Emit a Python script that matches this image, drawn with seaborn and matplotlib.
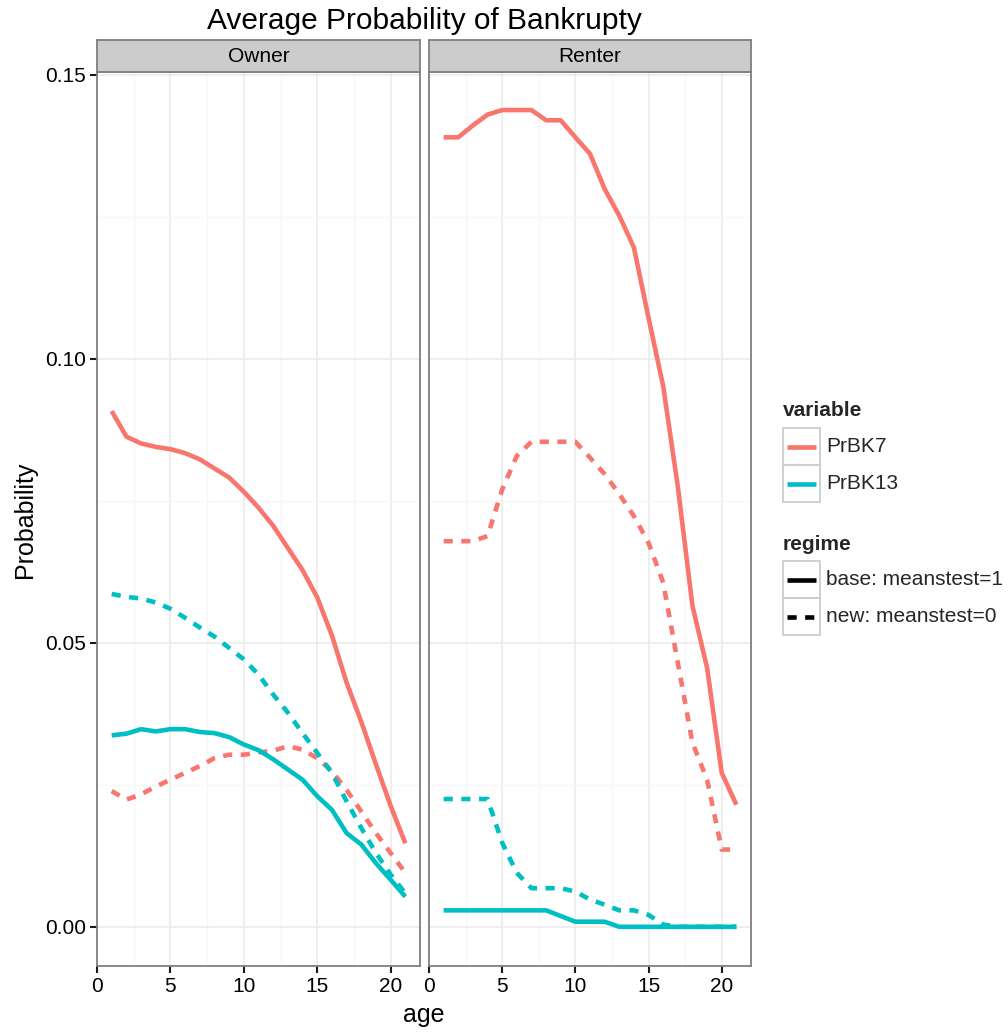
import numpy as np
import pandas as pd
import matplotlib
matplotlib.use("Agg")
import matplotlib.pyplot as plt
import seaborn as sns
from matplotlib.patches import Rectangle
from matplotlib.lines import Line2D
from matplotlib.ticker import MultipleLocator

# ---------------- data ----------------
ages = list(range(1, 22))
panels = ["Owner", "Renter"]
variables = ["PrBK7", "PrBK13"]
regimes = ["base: meanstest=1", "new: meanstest=0"]

owner_prbk7_base = [0.0908, 0.0863, 0.0851, 0.0845, 0.0841, 0.0834, 0.0823, 0.0807, 0.0791, 0.0766,
                    0.0738, 0.0706, 0.0667, 0.0628, 0.0580, 0.0513, 0.0430, 0.0361, 0.0286, 0.0213, 0.0147]
owner_prbk7_new = [0.0239, 0.0224, 0.0233, 0.0247, 0.0259, 0.0271, 0.0283, 0.0297, 0.0303, 0.0303,
                   0.0307, 0.0310, 0.0318, 0.0312, 0.0297, 0.0274, 0.0241, 0.0203, 0.0165, 0.0130, 0.0095]
owner_prbk13_base = [0.0337, 0.0340, 0.0348, 0.0344, 0.0348, 0.0348, 0.0343, 0.0341, 0.0334, 0.0321,
                     0.0311, 0.0295, 0.0277, 0.0259, 0.0230, 0.0206, 0.0165, 0.0145, 0.0112, 0.0083, 0.0053]
owner_prbk13_new = [0.0586, 0.0581, 0.0578, 0.0571, 0.0560, 0.0544, 0.0527, 0.0511, 0.0491, 0.0471,
                    0.0444, 0.0409, 0.0377, 0.0341, 0.0306, 0.0271, 0.0221, 0.0174, 0.0130, 0.0092, 0.0059]

renter_prbk7_base = [0.1390, 0.1390, 0.1411, 0.1430, 0.1438, 0.1438, 0.1438, 0.1420, 0.1420, 0.1390,
                     0.1361, 0.1299, 0.1252, 0.1196, 0.1072, 0.0952, 0.0775, 0.0565, 0.0456, 0.0271, 0.0215]
renter_prbk7_new = [0.0679, 0.0679, 0.0679, 0.0688, 0.0770, 0.0829, 0.0854, 0.0854, 0.0854, 0.0854,
                    0.0826, 0.0797, 0.0762, 0.0723, 0.0676, 0.0606, 0.0465, 0.0324, 0.0259, 0.0136, 0.0136]
renter_prbk13_base = [0.0029, 0.0029, 0.0029, 0.0029, 0.0029, 0.0029, 0.0029, 0.0029, 0.0019, 0.0009,
                      0.0009, 0.0009, 0.0000, 0.0000, 0.0000, 0.0000, 0.0000, 0.0000, 0.0000, 0.0000, 0.0000]
renter_prbk13_new = [0.0225, 0.0225, 0.0225, 0.0225, 0.0148, 0.0095, 0.0068, 0.0068, 0.0068, 0.0062,
                     0.0048, 0.0039, 0.0029, 0.0029, 0.0021, 0.0004, 0.0000, 0.0000, 0.0000, 0.0000, 0.0000]

title = "Average Probability of Bankrupty"
x_label = "age"
y_label = "Probability"
x_ticks = [0, 5, 10, 15, 20]
y_ticks = [0.00, 0.05, 0.10, 0.15]
y_tick_labels = ["0.00", "0.05", "0.10", "0.15"]

series = {
    ("Owner", "PrBK7", regimes[0]): owner_prbk7_base,
    ("Owner", "PrBK7", regimes[1]): owner_prbk7_new,
    ("Owner", "PrBK13", regimes[0]): owner_prbk13_base,
    ("Owner", "PrBK13", regimes[1]): owner_prbk13_new,
    ("Renter", "PrBK7", regimes[0]): renter_prbk7_base,
    ("Renter", "PrBK7", regimes[1]): renter_prbk7_new,
    ("Renter", "PrBK13", regimes[0]): renter_prbk13_base,
    ("Renter", "PrBK13", regimes[1]): renter_prbk13_new,
}
rows = []
for (p, v, r), vals in series.items():
    for a, val in zip(ages, vals):
        rows.append(dict(panel=p, variable=v, regime=r, age=a, value=val))
df = pd.DataFrame(rows)

# ---------------- style ----------------
sns.set_theme(style="white")
plt.rcParams["font.family"] = ["Liberation Sans", "DejaVu Sans"]

palette = {"PrBK7": "#F8766D", "PrBK13": "#00BFC4"}
DASH = (2.0, 1.85)
dash_map = {regimes[0]: "", regimes[1]: DASH}
LW = 3.3
TICK_FS = 15
LEG_FS = 15

W, H = 1008, 1032
fig = plt.figure(figsize=(W / 100, H / 100), dpi=100)

def fx(px):
    return px / W

def fy(py):
    return 1 - py / H

panel_x = [(97, 420), (429, 751)]
panel_top, panel_bot = 72, 966
strip_top = 40

border = "#7F7F7F"
for i, (pname, (x0, x1)) in enumerate(zip(panels, panel_x)):
    ax = fig.add_axes([fx(x0), fy(panel_bot), fx(x1 - x0), (panel_bot - panel_top) / H])
    sub = df[df.panel == pname]
    sns.lineplot(data=sub, x="age", y="value", hue="variable", style="regime",
                 hue_order=variables, style_order=regimes, palette=palette,
                 dashes=dash_map, linewidth=LW, estimator=None, errorbar=None,
                 legend=False, ax=ax)
    for ln in ax.lines:
        ln.set_solid_capstyle("butt")
        ln.set_dash_capstyle("butt")
        ln.set_solid_joinstyle("round")
    ax.set_xlim(0, 22)
    ax.set_ylim(-0.0069, 0.1505)
    ax.set_facecolor("white")
    ax.set_xticks(x_ticks)
    ax.xaxis.set_minor_locator(MultipleLocator(2.5))
    ax.set_yticks(y_ticks)
    ax.yaxis.set_minor_locator(MultipleLocator(0.025))
    ax.grid(True, which="major", color="#EBEBEB", linewidth=1.2)
    ax.grid(True, which="minor", color="#F7F7F7", linewidth=1.0)
    ax.set_axisbelow(True)
    for s in ax.spines.values():
        s.set_color(border)
        s.set_linewidth(1.3)
        s.set_visible(True)
    ax.tick_params(axis="x", which="major", length=5, width=1.5, color="#1A1A1A",
                   labelsize=TICK_FS, labelcolor="black", pad=3, direction="out", bottom=True)
    ax.tick_params(which="minor", length=0)
    if i == 0:
        ax.set_yticklabels(y_tick_labels)
        ax.tick_params(axis="y", which="major", length=5, width=1.5, color="#1A1A1A",
                       labelsize=TICK_FS, labelcolor="black", pad=3, direction="out", left=True)
    else:
        ax.tick_params(axis="y", which="major", length=0, labelleft=False)
    ax.set_xlabel("")
    ax.set_ylabel("")

    # strip
    sax = fig.add_axes([fx(x0), fy(panel_top), fx(x1 - x0), (panel_top - strip_top) / H])
    sax.set_facecolor("#CCCCCC")
    sax.set_xticks([])
    sax.set_yticks([])
    for s in sax.spines.values():
        s.set_color(border)
        s.set_linewidth(1.3)
    sax.text(0.5, 0.48, pname, ha="center", va="center", fontsize=15, color="black",
             transform=sax.transAxes)

# titles
fig.text(fx(424), fy(21), title, ha="center", va="center", fontsize=21.5, color="black")
fig.text(fx(424), fy(1015), x_label, ha="center", va="center", fontsize=18, color="black")
fig.text(fx(25), fy(520), y_label, ha="center", va="center", fontsize=18, rotation=90, color="black")

# legend (drawn in pixel coordinates)
lax = fig.add_axes([0, 0, 1, 1])
lax.set_xlim(0, W)
lax.set_ylim(H, 0)
lax.axis("off")
lax.patch.set_alpha(0)

def legend_block(y_title, title_txt, entries):
    lax.text(783, y_title, title_txt, fontsize=LEG_FS, fontweight="bold", va="center", ha="left")
    y = y_title + 17
    for color, dashes, label in entries:
        lax.add_patch(Rectangle((783, y), 37, 37, facecolor="white", edgecolor="#CCCCCC", linewidth=1.3))
        ln = Line2D([787, 816], [y + 18.5, y + 18.5], color=color, linewidth=LW, solid_capstyle="butt",
                    dash_capstyle="butt")
        if dashes:
            ln.set_dashes(dashes)
        lax.add_line(ln)
        lax.text(826, y + 18.5, label, fontsize=LEG_FS, va="center", ha="left")
        y += 37

legend_block(411, "variable", [(palette["PrBK7"], None, "PrBK7"), (palette["PrBK13"], None, "PrBK13")])
legend_block(544, "regime", [("black", None, regimes[0]), ("black", DASH, regimes[1])])

fig.savefig("out.png", dpi=100)
